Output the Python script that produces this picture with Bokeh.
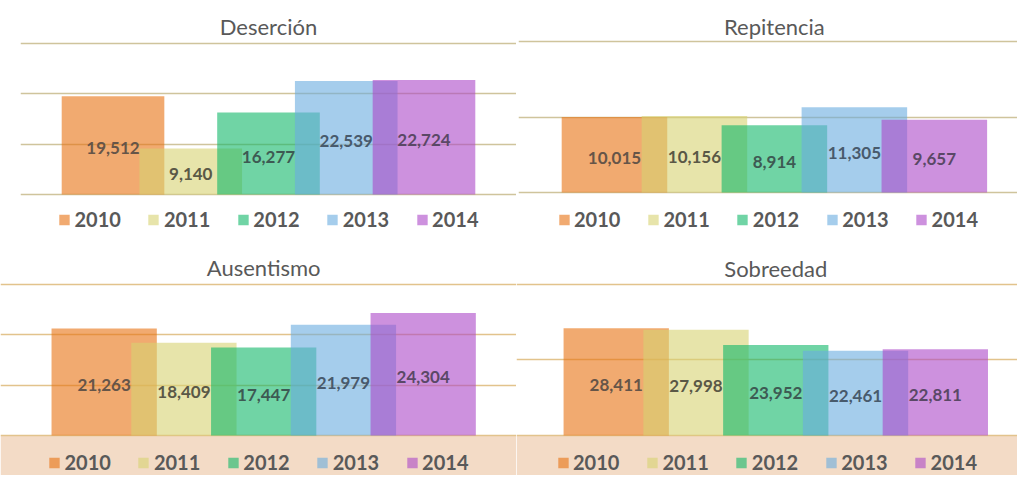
from bokeh.plotting import figure
from bokeh.models import ColumnDataSource, FixedTicker, BoxAnnotation, Label, Range1d, Grid
from bokeh.layouts import column, row
from bokeh.core.properties import value
from bokeh.embed import file_html
from bokeh.resources import INLINE

# ---------------- data ----------------
years = ["2010", "2011", "2012", "2013", "2014"]
desercion = [19512, 9140, 16277, 22539, 22724]
repitencia = [10015, 10156, 8914, 11305, 9657]
ausentismo = [21263, 18409, 17447, 21979, 24304]
sobreedad = [28411, 27998, 23952, 22461, 22811]
ticks_30k = [0, 10000, 20000, 30000]
ticks_20k = [0, 10000, 20000]
ticks_40k = [0, 20000, 40000]

# ---------------- style ----------------
bar_colors = ["#E87111", "#D7D271", "#11B769", "#69ACDF", "#AC48C8"]
label_colors = ["#665548", "#5a5846", "#3d5a53", "#485a6c", "#5a4866"]
FONT = "Lato"


def y_at(yr, h, px_from_top):
    return yr[1] - px_from_top * (yr[1] - yr[0]) / h


def make_panel(title, values, ticks, w, h, border_left, xr, yr, title_px,
               legend_margin, lower):
    p = figure(width=w, height=h, x_range=Range1d(*xr), y_range=Range1d(*yr),
               output_backend="svg", toolbar_location=None,
               x_axis_location=None, y_axis_location=None,
               min_border_left=border_left, min_border_right=0,
               min_border_top=0, min_border_bottom=0)
    p.outline_line_color = None
    p.background_fill_color = "white"
    p.border_fill_color = "white"
    for g in list(p.center):
        p.center.remove(g)

    if lower:
        p.add_layout(BoxAnnotation(top=0, fill_color="#F3DBC6", fill_alpha=1.0,
                                   line_color=None, level="image"))
    grid = Grid(dimension=1, ticker=FixedTicker(ticks=ticks),
                grid_line_color="#E2C38C" if lower else "#CFC49C",
                grid_line_width=1.5 if lower else 1.3)
    p.add_layout(grid)

    src = ColumnDataSource(dict(
        x=list(range(len(years))),
        top=values,
        year=years,
        color=bar_colors,
        label=[f"{v:,}" for v in values],
        ly=[v / 2 for v in values],
        lc=label_colors,
    ))
    p.vbar(x="x", top="top", bottom=0, width=1.32, fill_color="color",
           fill_alpha=0.6, line_color=None, legend_field="year", source=src)
    p.text(x="x", y="ly", text="label", text_align="center",
           text_baseline="middle", y_offset=3, text_font=value(FONT),
           text_font_style="bold", text_font_size="17px", text_color="lc",
           source=src)

    p.add_layout(Label(x=2, y=y_at(yr, h, title_px), text=title,
                       text_align="center", text_baseline="middle",
                       text_font=FONT, text_font_size="22px",
                       text_color="#595959"))

    lg = p.legend[0]
    lg.orientation = "horizontal"
    lg.location = "bottom_center"
    lg.background_fill_alpha = 0
    lg.border_line_color = None
    lg.padding = 0
    lg.margin = legend_margin
    lg.spacing = 26
    lg.glyph_width = 13
    lg.glyph_height = 13
    lg.label_standoff = 4
    lg.label_text_font = FONT
    lg.label_text_font_style = "bold"
    lg.label_text_font_size = "20px"
    lg.label_text_color = "#595959"
    return p


p1 = make_panel("Deserción", desercion, ticks_30k, 516, 240, 20,
                (-1.19, 5.19), (-9139, 38543), 26, 9, False)
p2 = make_panel("Repitencia", repitencia, ticks_20k, 501, 240, 2,
                (-1.2, 5.04), (-6370, 25480), 26, 9, False)
p3 = make_panel("Ausentismo", ausentismo, ticks_30k, 516, 235, 0,
                (-1.3, 5.17), (-7940, 38714), 27, 1, True)
p4 = make_panel("Sobreedad", sobreedad, ticks_40k, 501, 235, 0,
                (-1.25, 5.03), (-10590, 51620), 28, 1, True)

layout = column(row(p1, p2), row(p3, p4))
open("out.html", "w").write(file_html(layout, INLINE))
